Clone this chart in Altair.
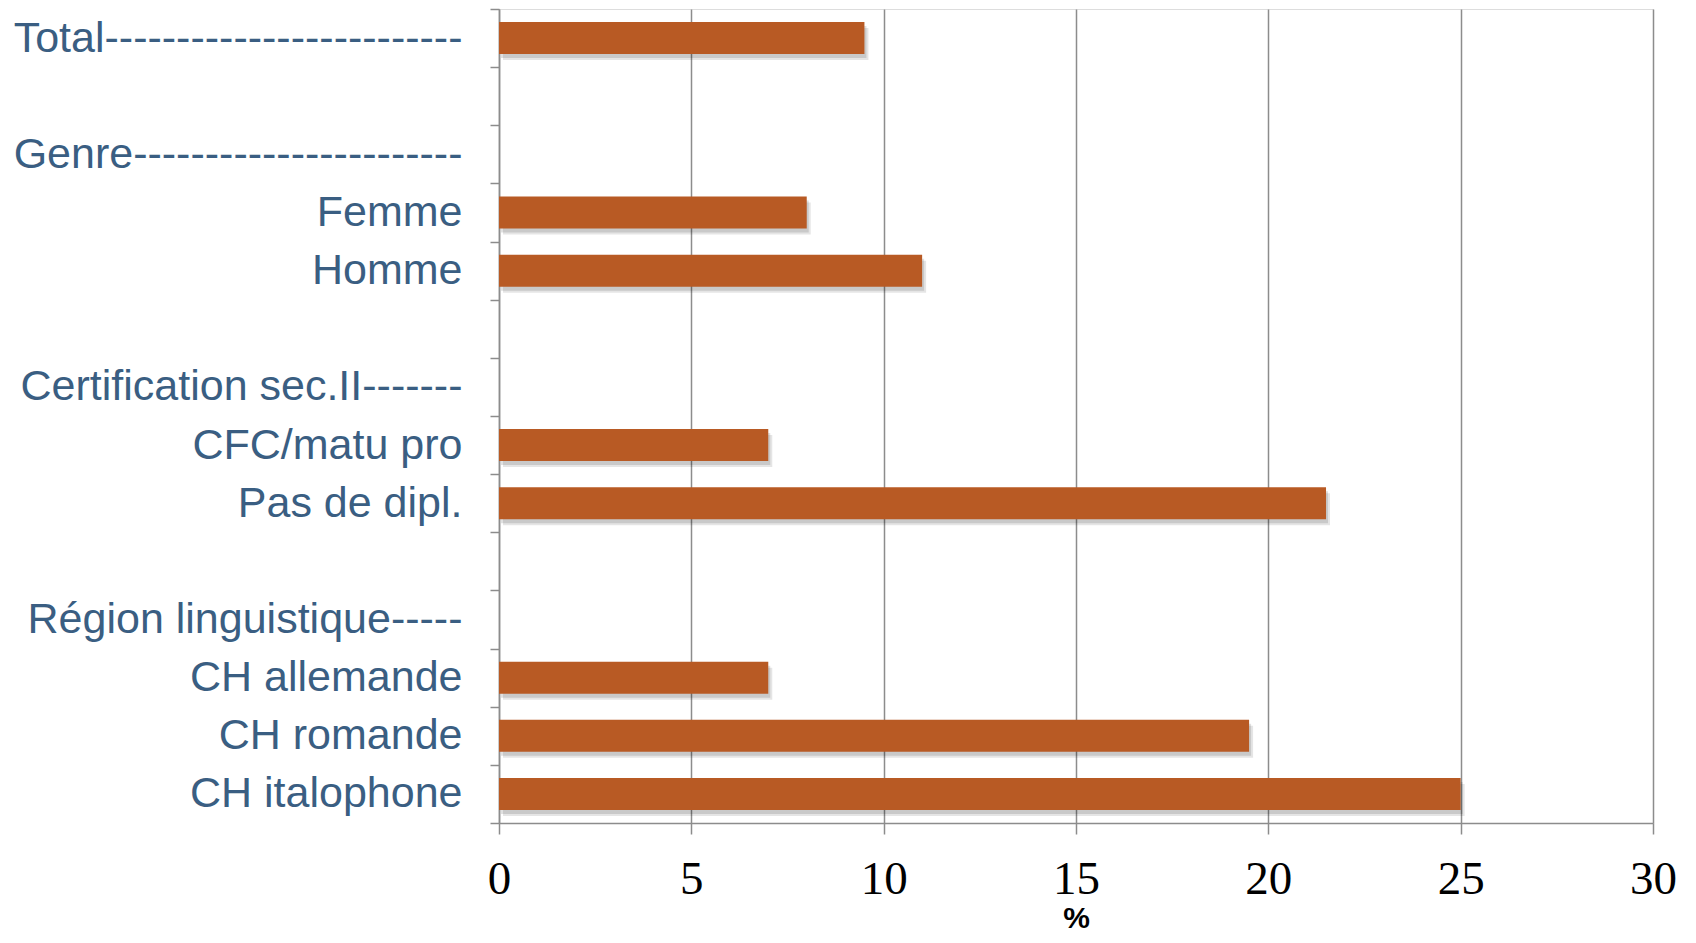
import altair as alt
import pandas as pd

categories = [
    "Total-------------------------",
    " ",
    "Genre-----------------------",
    "Femme",
    "Homme",
    "  ",
    "Certification sec.II-------",
    "CFC/matu pro",
    "Pas de dipl.",
    "   ",
    "Région linguistique-----",
    "CH allemande",
    "CH romande",
    "CH italophone",
]
bar_categories = [
    "Total-------------------------",
    "Femme",
    "Homme",
    "CFC/matu pro",
    "Pas de dipl.",
    "CH allemande",
    "CH romande",
    "CH italophone",
]
values = [9.5, 8.0, 11.0, 7.0, 21.5, 7.0, 19.5, 25.0]
x_ticks = [0, 5, 10, 15, 20, 25, 30]

df = pd.DataFrame({"cat": bar_categories, "val": values})

y_enc = alt.Y(
    "cat:N",
    sort=categories,
    scale=alt.Scale(domain=categories, paddingInner=0, paddingOuter=0),
    axis=alt.Axis(
        title=None,
        tickBand="extent",
        labelFont="Liberation Sans",
        labelFontSize=43,
        labelColor="#3A5E82",
        labelPadding=28,
        labelLimit=0,
        tickSize=9,
        tickColor="#8C8C8C",
        tickWidth=1.5,
        domainColor="#8C8C8C",
        domainWidth=1.5,
        grid=False,
    ),
)
x_enc = alt.X(
    "val:Q",
    scale=alt.Scale(domain=[0, 30], nice=False),
    axis=alt.Axis(
        values=x_ticks,
        title="%",
        titleFont="Liberation Sans",
        titleFontSize=30,
        titleFontWeight="bold",
        titleColor="#000000",
        titleBaseline="alphabetic",
        titleY=104,
        labelFont="Liberation Serif",
        labelFontSize=47,
        labelColor="#000000",
        labelPadding=22,
        labelFlush=False,
        tickSize=11,
        tickColor="#8C8C8C",
        tickWidth=1.5,
        domainColor="#8C8C8C",
        domainWidth=1.5,
        grid=True,
        gridColor="#8C8C8C",
        gridWidth=1.5,
    ),
)

shadow1 = alt.Chart(df).mark_bar(size=32, color="#000000", opacity=0.10, xOffset=4, yOffset=6).encode(x=x_enc, y=y_enc)
shadow2 = alt.Chart(df).mark_bar(size=32, color="#000000", opacity=0.12, xOffset=2, yOffset=4).encode(x=x_enc, y=y_enc)
bars = alt.Chart(df).mark_bar(size=32, color="#B85A24").encode(x=x_enc, y=y_enc)

chart = (
    alt.layer(shadow1, shadow2, bars)
    .properties(
        width=1154,
        height=814,
        autosize=alt.AutoSizeParams(type="none"),
        padding={"left": 491, "top": 1, "right": 30, "bottom": 112},
    )
    .configure_view(stroke=None)
    .configure(background="white")
)

chart.save("out.html", embed_options={"renderer": "svg", "actions": False})
